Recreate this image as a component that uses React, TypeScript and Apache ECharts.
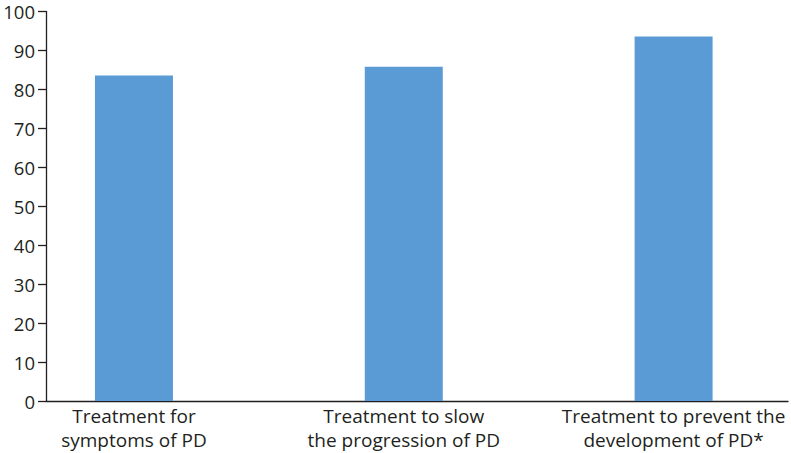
import React, { useEffect, useRef } from "react";
import * as echarts from "echarts";

const categories = [
  "Treatment for\nsymptoms of PD",
  "Treatment to slow\nthe progression of PD",
  "Treatment to prevent the\ndevelopment of PD*",
];
const values = [83.6, 85.8, 93.6];
const yTicks = { min: 0, max: 100, interval: 10 };

export default function App() {
  const ref = useRef<HTMLDivElement>(null);
  useEffect(() => {
    if (!ref.current) return;
    const chart = echarts.init(ref.current, null, { renderer: "svg" });
    const font = "'Open Sans', 'Noto Sans', sans-serif";
    chart.setOption({
      animation: false,
      grid: { left: 46, right: 3, top: 11.5, bottom: 52, containLabel: false },
      xAxis: {
        type: "value",
        min: -0.326,
        max: 2.424,
        splitLine: { show: false },
        axisTick: { show: false },
        axisLine: { show: true, onZero: false, lineStyle: { color: "#231f20", width: 1.3 } },
        axisLabel: {
          customValues: [0, 1, 2],
          formatter: (v: number) => categories[Math.round(v)] ?? "",
          color: "#231f20",
          fontSize: 19,
          fontFamily: font,
          lineHeight: 24,
          margin: 3,
          align: "center",
        },
      },
      yAxis: {
        type: "value",
        min: yTicks.min,
        max: yTicks.max,
        interval: yTicks.interval,
        splitLine: { show: false },
        axisLine: { show: true, onZero: false, lineStyle: { color: "#231f20", width: 1.3 } },
        axisTick: { show: true, length: 8, lineStyle: { color: "#231f20", width: 1.3 } },
        axisLabel: { color: "#231f20", fontSize: 18.5, lineHeight: 18, fontFamily: font, margin: 11 },
      },
      series: [
        {
          type: "bar",
          data: values.map((v, i) => [i, v]),
          barWidth: 78,
          itemStyle: { color: "#5b9bd5" },
        },
      ],
    });
    return () => chart.dispose();
  }, []);
  return (
    <div
      ref={ref}
      style={{ position: "fixed", left: 0, top: 0, width: 791, height: 453, background: "#fff" }}
    />
  );
}
